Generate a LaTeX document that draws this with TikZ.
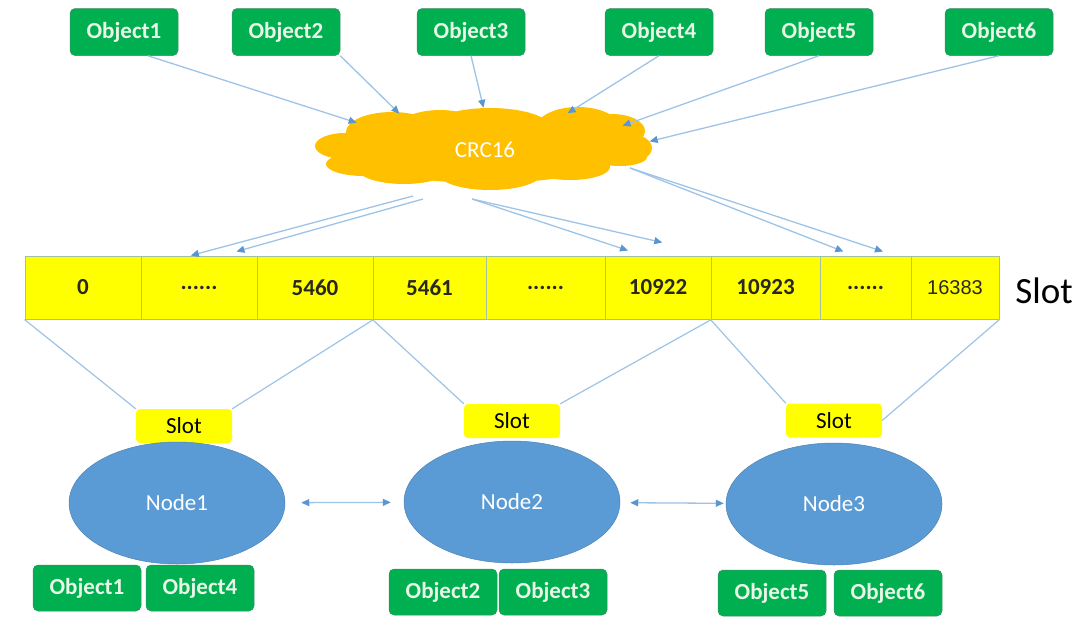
\documentclass[tikz,border=0pt]{standalone}
\usepackage{fontspec}
\setmainfont{Carlito}
\newfontfamily\lastslotfont{Liberation Sans}
\usetikzlibrary{
  arrows.meta,
  shapes.geometric,
  calc
}
\definecolor{objgreen}{RGB}{0,176,80}
\definecolor{objline}{RGB}{60,140,100}
\definecolor{objtext}{RGB}{232,246,232}
\definecolor{crcorange}{RGB}{255,192,0}
\definecolor{slotyellow}{RGB}{255,255,0}
\definecolor{cellline}{RGB}{165,192,160}
\definecolor{numtext}{RGB}{40,40,30}
\definecolor{hostblue}{RGB}{91,155,213}
\definecolor{linkblue}{RGB}{157,195,230}
\definecolor{tipblue}{RGB}{91,150,210}
\newcommand{\slotdots}{......}

\begin{document}
\begin{tikzpicture}[
  x=1pt, y=-1pt,
  every node/.style={font=\fontsize{23}{26}\selectfont},
  object/.style={draw=objline, line width=0.5pt, fill=objgreen, rounded corners=5pt,
                 minimum width=108pt, minimum height=47pt, inner sep=0pt, text=objtext,
                 font=\fontsize{23}{26}\selectfont\bfseries},
  crc/.style={ellipse, draw=none, minimum width=336pt, minimum height=84pt,
              inner sep=0pt, text=white},
  cell/.style={draw=cellline, line width=1pt, fill=slotyellow, minimum height=63pt,
               inner sep=0pt, text=numtext, font=\fontsize{23}{26}\selectfont\bfseries},
  slotbox/.style={fill=slotyellow, rounded corners=4pt, minimum width=96pt,
                  minimum height=34pt, inner sep=0pt, text=black},
  host/.style={ellipse, fill=hostblue, draw=hostblue!85!black, line width=0.5pt,
               minimum width=216pt, minimum height=122pt, inner sep=0pt, text=white},
  feed/.style={draw=linkblue, line width=1.3pt,
               -{Triangle[length=8pt, width=7pt, color=tipblue]}},
  link/.style={draw=linkblue, line width=1.3pt,
               {Triangle[length=8pt, width=7pt, color=tipblue]}-{Triangle[length=8pt, width=7pt, color=tipblue]}},
  wire/.style={draw=linkblue, line width=1.2pt}
]
\useasboundingbox (0,0) rectangle (1084,616);

% Objects to hash
\foreach \i/\x in {1/124, 2/286, 3/471, 4/659, 5/819, 6/999} {
  \node[object] (o\i) at (\x, 32) {Object\i};
}

% CRC16 cloud, puff by puff
\fill[crcorange]
  (485,150) ellipse [x radius=140, y radius=33]
  (345,146) ellipse [x radius=30, y radius=13]
  (364,164) ellipse [x radius=38, y radius=12]
  (392,132) ellipse [x radius=46, y radius=20]
  (440,131) ellipse [x radius=45, y radius=21]
  (490,129) ellipse [x radius=62, y radius=21]
  (578,128) ellipse [x radius=42, y radius=21]
  (612,131) ellipse [x radius=33, y radius=17]
  (622,148) ellipse [x radius=30, y radius=16]
  (404,169) ellipse [x radius=46, y radius=15]
  (490,173) ellipse [x radius=52, y radius=17]
  (570,167) ellipse [x radius=40, y radius=13]
  (620,157) ellipse [x radius=27, y radius=9];
\node[crc] (crc) at (485,150) {CRC16};

\draw[feed] ($(o1.south west)!0.72!(o1.south east)$) -- (crc.168);
\draw[feed] (o2.south east) -- (crc.157);
\draw[feed] (o3.south) -- (crc.92);
\draw[feed] (o4.south) -- (crc.24);
\draw[feed] (o5.south) -- (crc.10);
\draw[feed] (o6.south) -- (crc.3);

% Slot table
\foreach \i/\l/\r/\t in {0/25/141/0, 1/141/257/\slotdots, 2/257/373/5460, 3/373/486/5461,
                          4/486/605/\slotdots, 5/605/711/10922, 6/711/820/10923, 7/820/911/\slotdots} {
  \node[cell, minimum width={(\r-\l)*1pt}] (s\i) at ({(\l+\r)/2}, 287.5) {\t};
}
\node[cell, minimum width=88pt, font=\fontsize{20}{24}\selectfont\lastslotfont] (s8) at (955, 287.5) {16383};

\node[font=\fontsize{37}{40}\selectfont] (slotlabel) at (1044,291) {Slot};

% Hash results
\coordinate (h1) at (413,196);
\coordinate (h2) at (423,199);
\coordinate (h3) at (472,199);
\coordinate (h4) at (630,168);

\draw[feed] (h1) -- ($(s1.north west)!0.43!(s1.north east)$);
\draw[feed] (h2) -- ($(s1.north west)!0.82!(s1.north east) + (0,-4)$);
\draw[feed] (h3) -- ($(s5.north west)!0.22!(s5.north east) + (0,-5)$);
\draw[feed] (h3) -- ($(s5.north west)!0.54!(s5.north east) + (0,-13)$);
\draw[feed] (h4) -- ($(s7.north west)!0.26!(s7.north east) + (0,-4)$);
\draw[feed] (h4) -- ($(s7.north west)!0.69!(s7.north east) + (0,-4)$);

% Cluster nodes
\node[slotbox] (slot1) at (184,426) {Slot};
\node[slotbox] (slot2) at (512,421) {Slot};
\node[slotbox] (slot3) at (834,420.5) {Slot};

\node[host] (n1) at (177,503) {Node1};
\node[host] (n2) at (512,502) {Node2};
\node[host] (n3) at (834,504) {Node3};

\draw[wire] (s0.south west) -- (slot1.north west);
\draw[wire] (s2.south east) -- (slot1.north east);
\draw[wire] (s3.south west) -- (slot2.north west);
\draw[wire] (s5.south east) -- (slot2.north east);
\draw[wire] (s6.south west) -- (slot3.north west);
\draw[wire] (s8.south east) -- (slot3.east);

\draw[link, shorten <=16pt, shorten >=13pt] (n1) -- (n2);
\draw[link, shorten <=10pt, shorten >=2pt] (n2) -- (n3);

% Objects stored on each node
\node[object, minimum height=46pt] (n1a) at (87,588) {Object1};
\node[object, minimum height=46pt] (n1b) at (200,588) {Object4};
\node[object, minimum height=46pt] (n2a) at (443,592) {Object2};
\node[object, minimum height=46pt] (n2b) at (553,592) {Object3};
\node[object, minimum height=46pt] (n3a) at (772,593) {Object5};
\node[object, minimum height=46pt] (n3b) at (888,593) {Object6};

\end{tikzpicture}
\end{document}
